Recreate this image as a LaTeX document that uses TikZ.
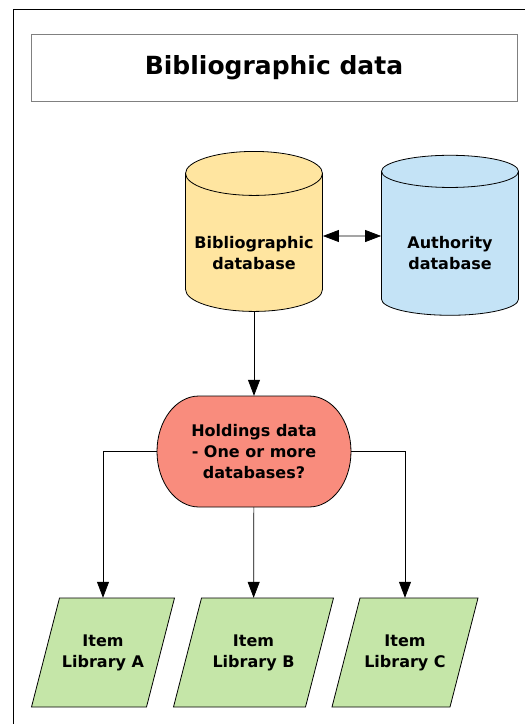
\documentclass[tikz,border=0pt]{standalone}
\usepackage{fontspec}
\setmainfont{DejaVu Sans}
\usetikzlibrary{shapes.geometric, arrows.meta}

\definecolor{bibfill}{RGB}{255,229,160}
\definecolor{authfill}{RGB}{196,227,246}
\definecolor{holdfill}{RGB}{249,140,125}
\definecolor{itemfill}{RGB}{197,230,168}

\tikzset{
        box/.style={draw, line width=0.8pt, align=center,
                font=\bfseries\fontsize{16}{21}\selectfont},
        db/.style={box, cylinder, shape border rotate=90, aspect=0.35,
                minimum width=137pt, minimum height=160pt},
        plain/.style={align=center, font=\bfseries\fontsize{16}{21}\selectfont},
        itemtext/.style={plain, minimum width=100pt, minimum height=109pt},
        arr/.style={-{Triangle[length=16pt,width=12pt]}, line width=0.7pt},
        dblarr/.style={{Triangle[length=16pt,width=12pt]}-{Triangle[length=16pt,width=12pt]},
                line width=0.7pt}
}

\begin{document}
\begin{tikzpicture}[x=1pt,y=-1pt]

        \useasboundingbox (0,0) rectangle (525,724);
        \draw[line width=0.8pt] (525,9) -- (13,9) -- (13,724);

        \node[draw=gray, line width=0.8pt, minimum width=486pt, minimum height=67pt,
                font=\bfseries\fontsize{25}{30}\selectfont] (title) at (274,67.5) {Bibliographic data};

        \node[db, fill=bibfill] (bib) at (254,246) {\rule{0pt}{26pt}Bibliographic\\database};
        \node[db, fill=authfill] (auth) at (450,246) {\rule{0pt}{26pt}Authority\\database};
        \draw[dblarr] ([yshift=10pt]bib.east) -- ([yshift=10pt]auth.west);

        % holdings: box with elliptic ends
        \draw[line width=0.8pt, fill=holdfill] (199,396) -- (309,396)
                arc[start angle=-90, end angle=90, x radius=42, y radius=55.5] -- (199,507)
                arc[start angle=90, end angle=270, x radius=42, y radius=55.5] -- cycle;
        \node[plain, minimum width=194pt, minimum height=111pt] (hold) at (254,451.5)
                {Holdings data\\- One or more\\databases?};
        \draw[arr] (bib) -- (hold);

        % item libraries: centre / top width / letter
        \foreach \x/\w/\n in {103/115/A, 253.5/132/B, 405/118/C}
        {
                \draw[line width=0.8pt, fill=itemfill] (\x-\w/2-14,707) -- (\x-\w/2+14,598)
                        -- (\x+\w/2+14,598) -- (\x+\w/2-14,707) -- cycle;
                \node[itemtext] (lib\n) at (\x,652.5) {Item\\Library \n};
        }

        \draw[arr] (hold.west) -| (libA);
        \draw[arr] (hold) -- (libB);
        \draw[arr] (hold.east) -| (libC);

\end{tikzpicture}
\end{document}
